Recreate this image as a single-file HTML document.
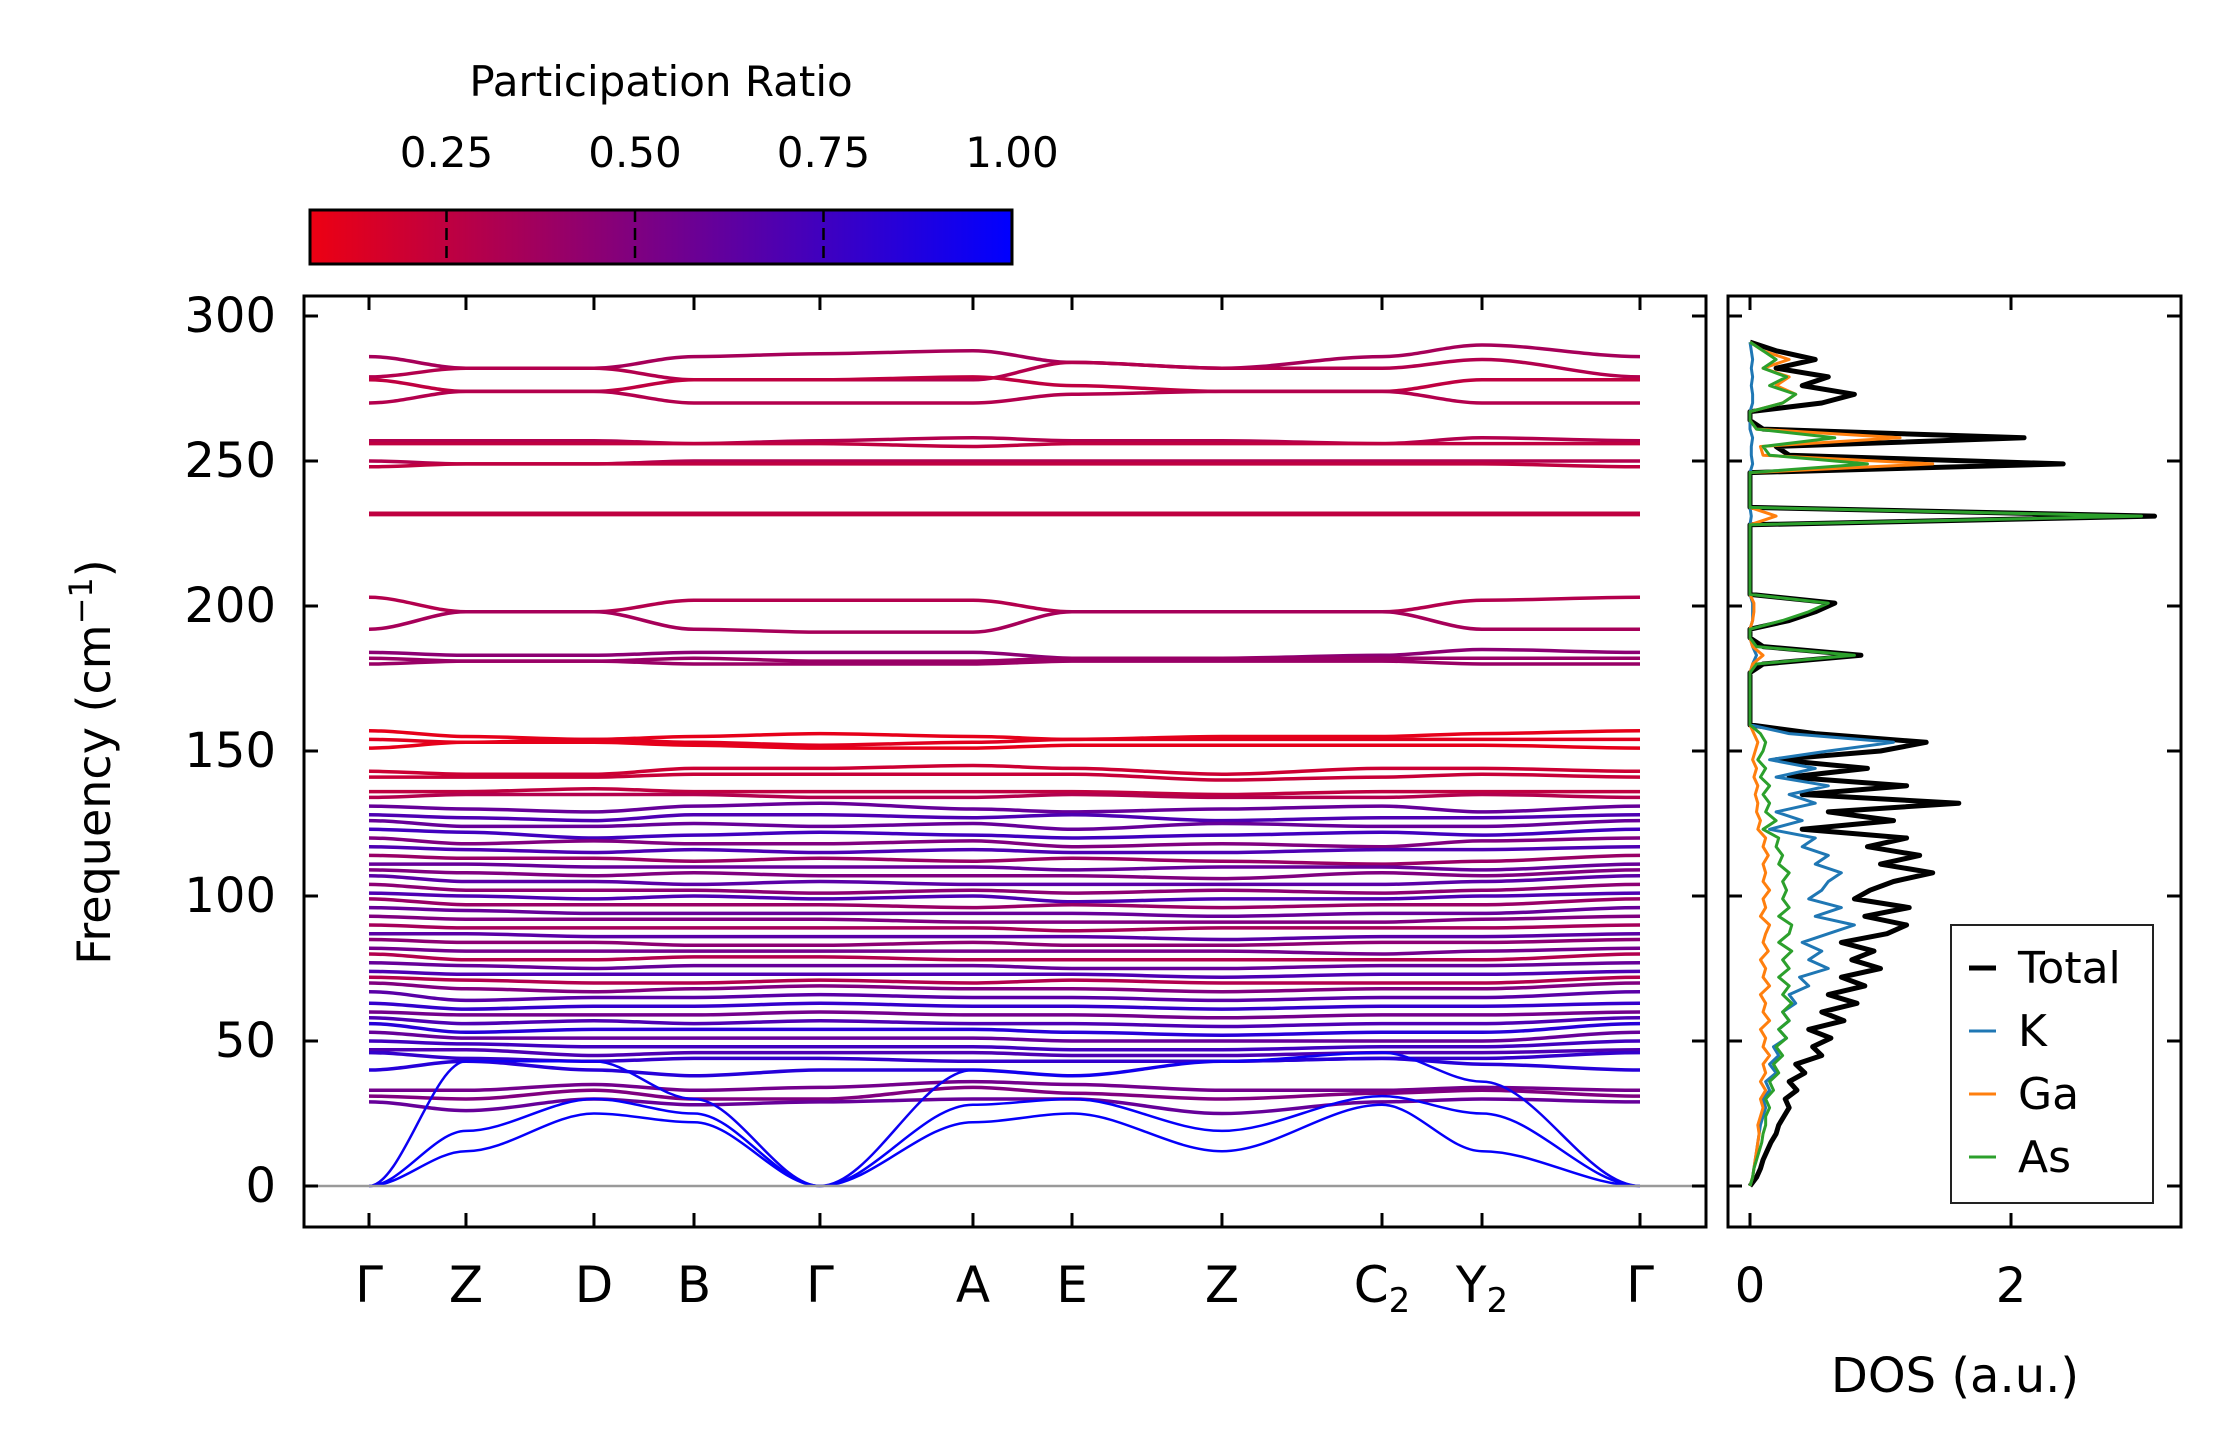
<!DOCTYPE html>
<html><head><meta charset="utf-8"><style>
html,body{margin:0;padding:0;background:#fff;}
svg{display:block;font-family:"DejaVu Sans","Liberation Sans",sans-serif;}
</style></head><body>
<svg id="fig" width="2222" height="1455" viewBox="0 0 2222 1455" xmlns="http://www.w3.org/2000/svg">
<defs>
<linearGradient id="cbg" x1="0" x2="1" y1="0" y2="0">
<stop offset="0" stop-color="rgb(237,0,18)"/><stop offset="1" stop-color="rgb(0,0,255)"/>
</linearGradient>
<clipPath id="mainclip"><rect x="304" y="296" width="1402" height="931"/></clipPath>
<clipPath id="dosclip"><rect x="1728" y="296" width="453" height="931"/></clipPath>
</defs>
<g>
<text x="661" y="96" font-size="42" text-anchor="middle">Participation Ratio</text>
<rect x="310" y="210" width="702" height="54" fill="url(#cbg)" stroke="#000" stroke-width="3"/>
<g id="cbticks"></g>
</g>
<g id="bands" clip-path="url(#mainclip)"></g>
<line x1="304" x2="1706" y1="1186" y2="1186" stroke="#999" stroke-width="2.5"/>
<rect x="304" y="296" width="1402" height="931" fill="none" stroke="#000" stroke-width="3"/>
<g id="mainticks"></g>
<text transform="translate(110,762) rotate(-90)" font-size="46" text-anchor="middle">Frequency (cm<tspan dy="-18" font-size="32">−1</tspan><tspan dy="18">)</tspan></text>
<g id="dos" clip-path="url(#dosclip)"></g>
<rect x="1728" y="296" width="453" height="931" fill="none" stroke="#000" stroke-width="3"/>
<g id="dosticks"></g>
<text x="1955" y="1392" font-size="48" text-anchor="middle">DOS (a.u.)</text>
<g>
<rect x="1951" y="925" width="202" height="278" fill="#fff" stroke="#222" stroke-width="2"/>
<line x1="1969" x2="1996" y1="968" y2="968" stroke="#000" stroke-width="5"/><text x="2018" y="983" font-size="44">Total</text>
<line x1="1969" x2="1996" y1="1031" y2="1031" stroke="#1f77b4" stroke-width="3"/><text x="2018" y="1046" font-size="44">K</text>
<line x1="1969" x2="1996" y1="1094" y2="1094" stroke="#ff7f0e" stroke-width="3"/><text x="2018" y="1109" font-size="44">Ga</text>
<line x1="1969" x2="1996" y1="1157" y2="1157" stroke="#2ca02c" stroke-width="3"/><text x="2018" y="1172" font-size="44">As</text>
</g>
</svg>
<script>
const kLabels = ["Γ","Z","D","B","Γ","A","E","Z","C","Y","Γ"];
const kSubs = ["","","","","","","","","2","2",""];
const kPos = [0,0.0763,0.177,0.2557,0.3548,0.4752,0.5531,0.6711,0.797,0.8757,1];
const yTicks = [0,50,100,150,200,250,300];
const cbTicks = [0.25,0.5,0.75,1.0];
const cbTickLabels = ["0.25","0.50","0.75","1.00"];
const bandFreqs = [
[286,282,282,286,287,288,284,282,286,290,286],
[279,282,282,278,278,278,284,282,282,285,279],
[278,274,274,278,278,279,276,274,274,278,278],
[270,274,274,270,270,270,273,274,274,270,270],
[257,257,257,256,257,258,257,257,256,258,257],
[256,256,256,256,256,255,256,256,256,256,256],
[250,249,249,250,250,250,250,250,250,250,250],
[248,249,249,249,249,249,249,249,249,249,248],
[232,232,232,232,232,232,232,232,232,232,232],
[231.5,231.5,231.5,231.5,231.5,231.5,231.5,231.5,231.5,231.5,231.5],
[203,198,198,202,202,202,198,198,198,202,203],
[192,198,198,192,191,191,198,198,198,192,192],
[184,183,183,184,184,184,182,182,183,185,184],
[182,181,181,182,181,181,182,182,182,182,182],
[180,181,181,180,180,180,181,181,181,180,180],
[157,155,154,155,156,155,154,155,155,156,157],
[154,153,154,153,152,153,154,154,154,154,154],
[151,153,153,152,151,151,152,152,152,152,151],
[143,142,142,144,144,145,144,142,144,144,143],
[141,141,141,142,142,142,142,140,141,142,141],
[136,136,137,136,136,136,136,135,136,136,136],
[134,135,135,135,134,134,135,134,134,135,134],
[131,130,129,131,132,130,129,130,131,129,131],
[128,127,126,128,128,127,128,126,127,127,128],
[126,124,124,125,124,125,123,125,124,124,126],
[123,122,120,121,122,121,120,121,122,121,123],
[120,118,119,118,118,119,117,118,117,119,120],
[117,116,115,116,115,116,115,115,116,116,117],
[114,113,113,112,113,112,113,112,111,112,114],
[111,111,110,110,110,110,109,110,110,109,111],
[109,108,107,108,107,107,107,106,108,107,109],
[107,105,105,104,105,104,104,104,104,105,107],
[104,102,102,102,101,102,101,102,101,102,104],
[101,100,99,100,99,100,98,99,99,100,101],
[99,97,97,97,97,96,97,96,97,97,99],
[96,95,94,94,94,94,94,93,94,94,96],
[93,92,92,92,92,91,91,91,91,92,93],
[90,89,89,89,89,89,88,89,89,89,90],
[87,87,86,86,86,86,86,85,86,86,87],
[85,84,84,83,83,84,83,83,84,84,85],
[82,81,81,81,81,81,81,81,80,81,82],
[80,78,78,79,79,78,78,78,78,78,80],
[77,76,75,76,76,76,75,75,76,76,77],
[74,73,73,73,73,73,73,72,73,73,74],
[72,71,70,70,71,70,71,70,70,70,72],
[70,68,67,68,69,68,68,67,68,68,70],
[67,64,65,65,66,65,65,64,65,65,67],
[63,61,62,62,63,62,62,61,62,62,63],
[60,59,59,59,60,59,59,58,59,59,60],
[58,56,57,56,57,56,56,55,56,56,58],
[56,53,54,54,54,54,53,52,53,53,56],
[53,51,51,51,51,51,50,50,50,50,53],
[50,49,48,48,48,48,47,47,48,48,50],
[47,47,45,46,46,46,45,45,46,46,47],
[46,44,43,44,44,43,43,43,44,44,46],
[40,43,40,38,40,40,38,43,44,42,40],
[33,33,35,33,34,36,35,33,33,34,33],
[31,30,33,30,30,34,32,30,32,33,31],
[29,26,30,28,29,30,30,25,29,30,29],
[0,43,43,30,0,40,38,43,46,36,0],
[0,19,30,25,0,28,30,19,31,25,0],
[0,12,25,22,0,22,25,12,28,12,0]
];
const bandPR = [0.35,0.3,0.25,0.3,0.3,0.25,0.3,0.25,0.25,0.25,0.3,0.35,0.45,0.4,0.4,0.1,0.12,0.1,0.2,0.22,0.25,0.3,0.6,0.7,0.6,0.75,0.5,0.7,0.4,0.6,0.5,0.65,0.45,0.7,0.4,0.6,0.5,0.35,0.65,0.45,0.55,0.3,0.6,0.7,0.3,0.5,0.65,0.8,0.55,0.7,0.85,0.6,0.75,0.7,0.8,0.85,0.55,0.5,0.6,0.95,0.98,0.98];
const dosFreq = [0,3,6,9,12,15,18,21,24,27,30,33,36,39,42,45,48,51,54,57,60,63,66,69,72,75,78,81,84,87,90,93,96,99,102,105,108,111,114,117,120,123,126,129,132,135,138,141,144,147,150,153,156,159,162,165,168,171,174,177,180,183,186,189,192,195,198,201,204,207,210,213,216,219,222,225,228,231,234,237,240,243,246,249,252,255,258,261,264,267,270,273,276,279,282,285,288,291];
const dosTotal = [0,0.05,0.08,0.1,0.13,0.16,0.2,0.22,0.26,0.3,0.27,0.36,0.3,0.42,0.35,0.55,0.48,0.62,0.45,0.72,0.55,0.82,0.6,0.88,0.7,1.0,0.78,0.95,0.7,1.05,1.2,0.88,1.22,0.8,0.92,1.1,1.4,1.0,1.3,0.9,1.2,0.4,1.1,0.6,1.6,0.4,1.2,0.3,0.9,0.2,1.0,1.35,0.5,0,0,0,0,0,0,0,0.1,0.85,0.1,0,0,0.3,0.5,0.65,0,0,0,0,0,0,0,0,0,3.1,0,0,0,0,0,2.4,0.3,0.2,2.1,0.1,0,0,0.55,0.8,0.4,0.6,0.2,0.5,0.2,0];
const dosK = [0,0.02,0.03,0.04,0.05,0.06,0.07,0.08,0.1,0.12,0.1,0.15,0.12,0.2,0.15,0.22,0.18,0.28,0.22,0.3,0.25,0.35,0.3,0.45,0.38,0.6,0.45,0.55,0.4,0.6,0.8,0.5,0.7,0.45,0.55,0.6,0.7,0.5,0.6,0.4,0.5,0.15,0.4,0.2,0.5,0.3,0.6,0.2,0.5,0.15,0.6,1.1,0.3,0,0,0,0,0,0,0,0.02,0.05,0.02,0,0,0.02,0.02,0.02,0,0,0,0,0,0,0,0,0,0.01,0,0,0,0,0,0.02,0.01,0.01,0.02,0,0,0,0.02,0.02,0.01,0.02,0.01,0.02,0.01,0];
const dosGa = [0,0.02,0.03,0.04,0.05,0.06,0.07,0.06,0.08,0.1,0.08,0.12,0.08,0.12,0.1,0.15,0.1,0.12,0.08,0.15,0.1,0.12,0.08,0.15,0.1,0.12,0.08,0.14,0.1,0.12,0.15,0.08,0.12,0.1,0.15,0.1,0.12,0.1,0.14,0.1,0.12,0.06,0.08,0.05,0.06,0.04,0.06,0.03,0.05,0.02,0.04,0.06,0.03,0,0,0,0,0,0,0,0.02,0.1,0.02,0,0,0.02,0.03,0.03,0,0,0,0,0,0,0,0,0,0.2,0,0,0,0,0,1.4,0.1,0.08,1.15,0.05,0,0,0.25,0.35,0.2,0.3,0.1,0.3,0.1,0];
const dosAs = [0,0.02,0.03,0.05,0.07,0.09,0.1,0.12,0.12,0.15,0.12,0.18,0.15,0.22,0.18,0.25,0.2,0.28,0.22,0.3,0.25,0.32,0.25,0.3,0.22,0.3,0.25,0.32,0.22,0.3,0.32,0.22,0.3,0.25,0.28,0.25,0.3,0.22,0.25,0.2,0.22,0.1,0.2,0.12,0.15,0.1,0.15,0.08,0.12,0.06,0.1,0.12,0.08,0,0,0,0,0,0,0,0.05,0.8,0.05,0,0,0.25,0.45,0.6,0,0,0,0,0,0,0,0,0,3.0,0,0,0,0,0,0.9,0.15,0.1,0.65,0.05,0,0,0.25,0.35,0.15,0.28,0.1,0.2,0.1,0];

const NS = "http://www.w3.org/2000/svg";
const X0 = 369, X1 = 1640;
function kx(p){ return X0 + p*(X1-X0); }
function fy(f){ return 1186 - f*2.9; }
function dx(v){ return 1750 + v*130.5; }
function cbx(v){ return 258 + v*754; }
function prColor(p){ return "rgb("+Math.round(255*(1-p))+",0,"+Math.round(255*p)+")"; }
function mk(tag, attrs, parent){ const e=document.createElementNS(NS,tag); for(const k in attrs) e.setAttribute(k,attrs[k]); parent.appendChild(e); return e; }

const cbg = document.getElementById("cbticks");
cbTicks.forEach((t,i)=>{
  const x = cbx(t);
  if (t < 1) {
    const l = mk("line",{x1:x,x2:x,y1:210,y2:264,stroke:"#000","stroke-width":2.5,"stroke-dasharray":"12,6"},cbg);
    
    
  }
  const tx = mk("text",{x:x,y:167,"font-size":42,"text-anchor":"middle"},cbg);
  
  
  tx.textContent = cbTickLabels[i];
});

const bg = document.getElementById("bands");
bandFreqs.forEach((b,bi)=>{
  let d = "M"+kx(kPos[0])+","+fy(b[0]);
  for(let i=1;i<b.length;i++){
    const xa=kx(kPos[i-1]), xb=kx(kPos[i]), w=(xb-xa)/3;
    d += " C"+(xa+w)+","+fy(b[i-1])+" "+(xb-w)+","+fy(b[i])+" "+xb+","+fy(b[i]);
  }
  const p = mk("path",{d:d,fill:"none",stroke:prColor(bandPR[bi]),"stroke-width":bandPR[bi]>0.9?2.5:3.5},bg);
  
  
});

const mt = document.getElementById("mainticks");
yTicks.forEach(t=>{
  const y = fy(t);
  mk("line",{x1:304,x2:318,y1:y,y2:y,stroke:"#000","stroke-width":3},mt);
  mk("line",{x1:1692,x2:1706,y1:y,y2:y,stroke:"#000","stroke-width":3},mt);
  mk("line",{x1:1728,x2:1742,y1:y,y2:y,stroke:"#000","stroke-width":3},mt);
  mk("line",{x1:2167,x2:2181,y1:y,y2:y,stroke:"#000","stroke-width":3},mt);
  const tx = mk("text",{x:276,y:y+16,"font-size":48,"text-anchor":"end"},mt);
  
  
  tx.textContent = t;
});
kPos.forEach((p,i)=>{
  const x = kx(p);
  mk("line",{x1:x,x2:x,y1:296,y2:310,stroke:"#000","stroke-width":3},mt);
  mk("line",{x1:x,x2:x,y1:1213,y2:1227,stroke:"#000","stroke-width":3},mt);
  const tx = mk("text",{x:x,y:1302,"font-size":50,"text-anchor":"middle"},mt);
  
  
  tx.textContent = kLabels[i];
  if (kSubs[i]) { const s = mk("tspan",{"font-size":34,dy:10},tx); s.textContent = kSubs[i]; }
});

const dg = document.getElementById("dos");
[[dosTotal,"#000",5,"dos-total"],[dosK,"#1f77b4",3,"dos-k"],[dosGa,"#ff7f0e",3,"dos-ga"],[dosAs,"#2ca02c",3,"dos-as"]].forEach(s=>{
  const pts = dosFreq.map((f,i)=>dx(s[0][i])+","+fy(f)).join(" ");
  const pl = mk("polyline",{points:pts,fill:"none",stroke:s[1],"stroke-width":s[2],"stroke-linejoin":"round"},dg);
  
  
});
const dt = document.getElementById("dosticks");
[0,2].forEach(v=>{
  const x = dx(v);
  mk("line",{x1:x,x2:x,y1:296,y2:310,stroke:"#000","stroke-width":3},dt);
  mk("line",{x1:x,x2:x,y1:1213,y2:1227,stroke:"#000","stroke-width":3},dt);
  const tx = mk("text",{x:x,y:1302,"font-size":48,"text-anchor":"middle"},dt);
  
  
  tx.textContent = v;
});
</script>
</body></html>
